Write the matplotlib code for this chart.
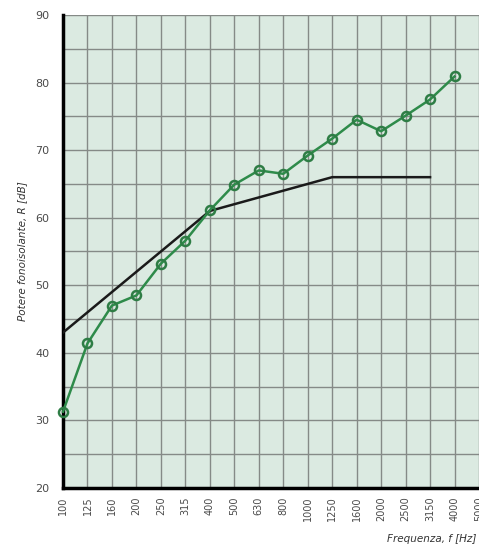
import matplotlib.pyplot as plt

freqs = ["100", "125", "160", "200", "250", "315", "400", "500", "630", "800",
         "1000", "1250", "1600", "2000", "2500", "3150", "4000", "5000"]
measured = [31.3, 41.4, 47.0, 48.5, 53.2, 56.6, 61.1, 64.9, 67.0, 66.5,
            69.2, 71.7, 74.5, 72.8, 75.1, 77.5, 80.9]
reference = [43, 46, 49, 52, 55, 58, 61, 62, 63, 64, 65, 66, 66, 66, 66, 66]

fig = plt.figure(figsize=(4.79, 5.47), dpi=100)
ax = fig.add_axes([63 / 479, 1 - 488 / 547, 416 / 479, 473 / 547])
ax.set_facecolor("#dbeae1")

x_all = list(range(len(freqs)))
ax.plot(x_all[:len(reference)], reference, color="#1a1a1a", lw=1.8, zorder=3)
ax.plot(x_all[:len(measured)], measured, color="#2e8b4a", lw=1.8, marker="o",
        ms=6.5, mfc="none", mew=1.8, mec="#2e7d45", zorder=4, clip_on=False)

ax.set_xlim(0, 16.94)
ax.set_ylim(20, 90)
ax.set_xticks(x_all)
ax.set_xticklabels(freqs, rotation=90, fontsize=7, color="#4a4a4a")
ax.set_yticks(range(20, 91, 10))
ax.set_yticks(range(25, 90, 10), minor=True)
ax.tick_params(axis="y", labelsize=8, labelcolor="#4a4a4a", length=0, pad=10)
ax.tick_params(axis="y", which="minor", length=0)
ax.tick_params(axis="x", length=0, pad=6)

ax.grid(True, which="both", color="#858a87", lw=1.0, zorder=1)
ax.set_axisbelow(True)

for s in ["top", "right"]:
    ax.spines[s].set_visible(False)
for s in ["left", "bottom"]:
    ax.spines[s].set_linewidth(2.5)
    ax.spines[s].set_color("black")

ax.set_ylabel("Potere fonoisolante, R [dB]", fontsize=7.5, style="italic", color="#333333", labelpad=6)
fig.text(0.995, 0.005, "Frequenza, f [Hz]", fontsize=7.5, style="italic", color="#333333",
         ha="right", va="bottom")

fig.savefig("out.png", dpi=100)
